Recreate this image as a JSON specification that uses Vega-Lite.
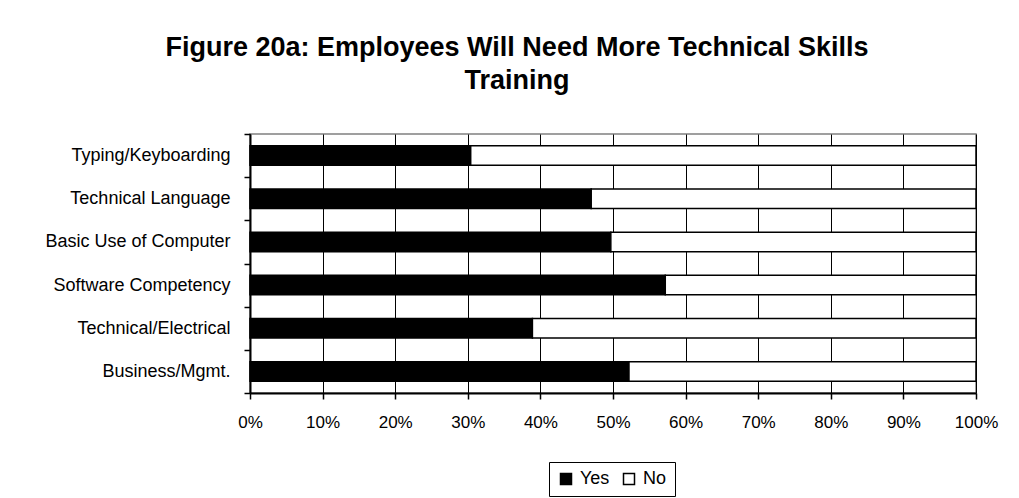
{
  "$schema": "https://vega.github.io/schema/vega-lite/v6.json",
  "autosize": {"type": "none"},
  "width": 726,
  "height": 259,
  "padding": {"left": 250, "top": 134, "right": 43, "bottom": 105},
  "background": "white",
  "title": {
    "text": ["Figure 20a: Employees Will Need More Technical Skills", "Training"],
    "fontSize": 27,
    "fontWeight": "bold",
    "font": "Liberation Sans",
    "color": "black",
    "anchor": "middle",
    "dx": -96,
    "offset": 30,
    "lineHeight": 33
  },
  "data": {
    "values": [
      {"category": "Typing/Keyboarding", "response": "Yes", "percent": 30.4},
      {"category": "Typing/Keyboarding", "response": "No", "percent": 69.6},
      {"category": "Technical Language", "response": "Yes", "percent": 47.0},
      {"category": "Technical Language", "response": "No", "percent": 53.0},
      {"category": "Basic Use of Computer", "response": "Yes", "percent": 49.7},
      {"category": "Basic Use of Computer", "response": "No", "percent": 50.3},
      {"category": "Software Competency", "response": "Yes", "percent": 57.2},
      {"category": "Software Competency", "response": "No", "percent": 42.8},
      {"category": "Technical/Electrical", "response": "Yes", "percent": 38.9},
      {"category": "Technical/Electrical", "response": "No", "percent": 61.1},
      {"category": "Business/Mgmt.", "response": "Yes", "percent": 52.2},
      {"category": "Business/Mgmt.", "response": "No", "percent": 47.8}
    ]
  },
  "mark": {"type": "bar", "height": {"band": 0.45}, "stroke": "black", "strokeWidth": 1.5},
  "encoding": {
    "y": {
      "field": "category",
      "type": "nominal",
      "sort": null,
      "scale": {"paddingInner": 0, "paddingOuter": 0},
      "axis": {
        "title": null,
        "tickBand": "extent",
        "tickSize": 6,
        "tickColor": "black",
        "tickWidth": 1.5,
        "domainColor": "black",
        "domainWidth": 2,
        "labelFontSize": 18,
        "labelFont": "Liberation Sans",
        "labelColor": "black",
        "labelPadding": 14,
        "labelLimit": 400,
        "grid": false
      }
    },
    "x": {
      "field": "percent",
      "type": "quantitative",
      "stack": "normalize",
      "scale": {"domain": [0, 1], "nice": false},
      "axis": {
        "title": null,
        "values": [0, 0.1, 0.2, 0.3, 0.4, 0.5, 0.6, 0.7, 0.8, 0.9, 1],
        "format": ".0%",
        "grid": true,
        "gridColor": "black",
        "gridWidth": 1,
        "gridOpacity": 1,
        "tickSize": 6,
        "tickColor": "black",
        "tickWidth": 1.5,
        "domainColor": "black",
        "domainWidth": 2,
        "labelFontSize": 17,
        "labelFont": "Liberation Sans",
        "labelColor": "black",
        "labelPadding": 15,
        "labelFlush": false,
        "labelOverlap": false
      }
    },
    "color": {
      "field": "response",
      "type": "nominal",
      "sort": ["Yes", "No"],
      "scale": {"domain": ["Yes", "No"], "range": ["black", "white"]},
      "legend": {
        "title": null,
        "orient": "none",
        "direction": "horizontal",
        "legendX": 299,
        "legendY": 328,
        "symbolType": "square",
        "symbolSize": 121,
        "symbolStrokeColor": "black",
        "symbolStrokeWidth": 1.5,
        "symbolOpacity": 1,
        "labelFontSize": 18,
        "labelFont": "Liberation Sans",
        "labelColor": "black",
        "labelOffset": 5,
        "columnPadding": 10,
        "padding": 8,
        "strokeColor": "black"
      }
    },
    "order": {"field": "response", "sort": "descending"}
  },
  "config": {
    "view": {"stroke": "#808080", "strokeWidth": 1.5},
    "axis": {"labelFont": "Liberation Sans"}
  }
}
